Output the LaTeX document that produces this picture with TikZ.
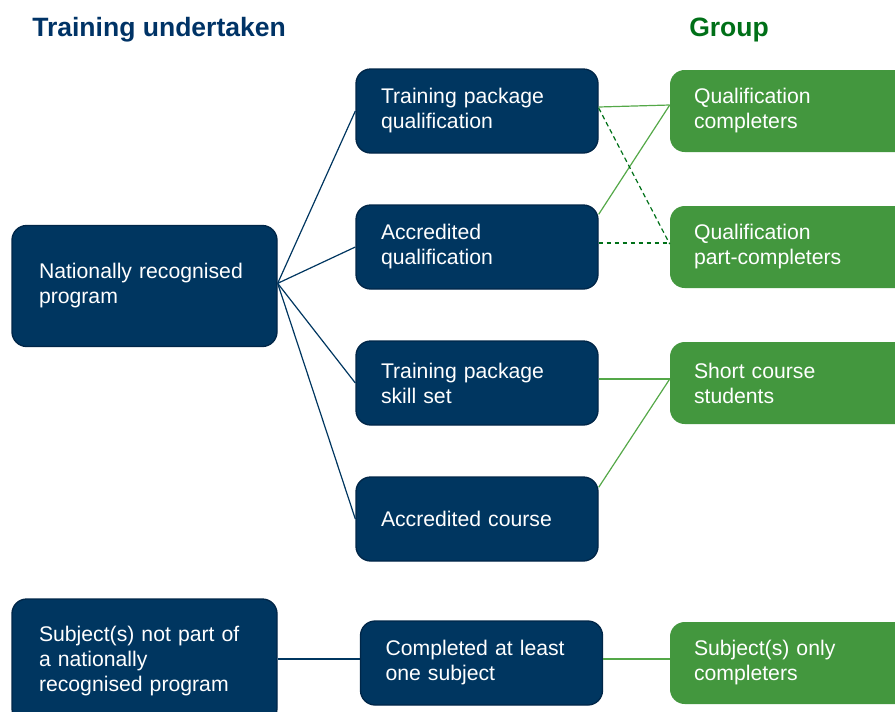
\documentclass[tikz,border=0pt]{standalone}
\usepackage{fontspec}
\setmainfont{Liberation Sans}
\definecolor{navy}{RGB}{0,54,96}
\definecolor{navyedge}{RGB}{0,38,72}
\definecolor{grn}{RGB}{67,151,62}
\definecolor{grnline}{RGB}{84,168,72}
\definecolor{dashgrn}{RGB}{0,112,24}
\definecolor{titleblue}{RGB}{0,51,102}
\definecolor{titlegrn}{RGB}{0,112,24}
\begin{document}
\begin{tikzpicture}[x=0.75pt,y=-0.75pt,
	navybox/.style={draw=navyedge, line width=1pt, fill=navy, text=white, rounded corners=11pt,
		align=left, inner xsep=18.75pt, inner ysep=0pt, font=\fontsize{15.9}{18.75}\selectfont},
	midbox/.style={navybox, text width=144pt, minimum height=63pt},
	bigbox/.style={navybox, inner xsep=20.25pt, text width=158.25pt},
	greenbox/.style={fill=grn, text=white, rounded corners=11pt, align=left, inner xsep=18pt,
		inner ysep=0pt, text width=144pt, minimum height=61.5pt, font=\fontsize{15.9}{18.75}\selectfont},
	navyline/.style={draw=navy, line width=0.9pt},
	grnlink/.style={draw=grnline, line width=0.9pt},
	dashlink/.style={draw=dashgrn, line width=0.9pt, dash pattern=on 3.5pt off 2.5pt},
	heading/.style={anchor=west, inner sep=0pt, font=\fontsize{19.9}{24}\selectfont\bfseries}]

	\useasboundingbox (0,0) rectangle (895,711);
	\clip (0,0) rectangle (895,711);

	% headings
	\node[heading, text=titleblue] (ttl) at (32,30) {Training undertaken};
	\node[heading, text=titlegrn] (grp) at (689,30) {Group};

	% training undertaken
	\node[bigbox, minimum height=90.75pt] (nrp) at (144.5,286) {Nationally recognised\\program};
	\node[midbox] (tpq) at (477,111) {Training package\\qualification};
	\node[midbox] (aq) at (477,247) {Accredited\\qualification};
	\node[midbox] (tps) at (477,383) {Training package\\skill set};
	\node[midbox] (ac) at (477,519) {Accredited course};
	\node[bigbox, minimum height=93pt] (snp) at (144.5,661) {Subject(s) not part of\\a nationally\\recognised program};
	\node[midbox] (cls) at (481.5,663) {Completed at least\\one subject};

	% groups
	\node[greenbox] (qc) at (790,111) {Qualification\\completers};
	\node[greenbox] (qpc) at (790,247) {Qualification\\part-completers};
	\node[greenbox] (scs) at (790,383) {Short course\\students};
	\node[greenbox] (soc) at (790,663) {Subject(s) only\\completers};

	% links
	\draw[navyline] ([yshift=2pt]nrp.east) -- (tpq.west);
	\draw[navyline] ([yshift=2pt]nrp.east) -- (aq.west);
	\draw[navyline] ([yshift=2pt]nrp.east) -- (tps.west);
	\draw[navyline] ([yshift=2pt]nrp.east) -- (ac.west);
	\draw[grnlink] ([yshift=3pt]tpq.east) -- ([yshift=4.5pt]qc.west);
	\draw[grnlink] ([yshift=-7.5pt]aq.north east) -- ([yshift=4.5pt]qc.west);
	\draw[dashlink] ([yshift=2.25pt]tpq.east) -- ([yshift=2.25pt]qpc.west);
	\draw[dashlink] ([yshift=3pt]aq.east) -- ([yshift=3pt]qpc.west);
	\draw[grnlink] ([yshift=3pt]tps.east) -- ([yshift=3pt]scs.west);
	\draw[grnlink] ([yshift=-8.25pt]ac.north east) -- ([yshift=3pt]scs.west);
	\draw[navyline] ([yshift=1.5pt]snp.east) -- ([yshift=3pt]cls.west);
	\draw[grnlink] ([yshift=3pt]cls.east) -- ([yshift=3pt]soc.west);
\end{tikzpicture}
\end{document}
